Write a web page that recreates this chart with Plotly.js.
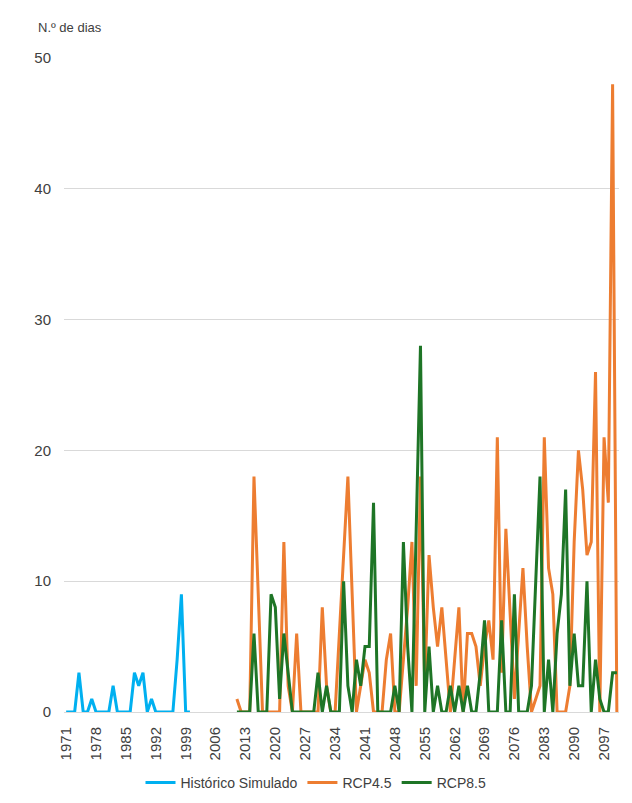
<!DOCTYPE html>
<html>
<head>
<meta charset="utf-8">
<script src="https://cdn.plot.ly/plotly-3.0.1.min.js"></script>
<style>
  html, body { margin: 0; padding: 0; background: #ffffff; }
  #chart { width: 632px; height: 803px; }
</style>
</head>
<body>
<div id="chart"></div>
<script>
// ---- Data ----
const histStartYear = 1971;
const histValues = [
  0, 0, 0, 3, 0, 0, 1, 0, 0, 0,
  0, 2, 0, 0, 0, 0, 3, 2, 3, 0,
  1, 0, 0, 0, 0, 0, 4, 9, 0, 0
];

const rcpStartYear = 2011;
const rcp45Values = [
  1, 0, 0, 0, 18, 9, 0, 0, 0, 0,
  0, 13, 2, 0, 6, 0, 0, 0, 0, 0,
  8, 2, 0, 0, 6, 12, 18, 9, 0, 2,
  4, 3, 0, 0, 0, 4, 6, 0, 0, 4,
  8, 13, 2, 18, 2, 12, 8, 5, 8, 4,
  0, 4, 8, 0, 6, 6, 5, 2, 5, 7,
  4, 21, 3, 14, 7, 1, 6, 11, 5, 0,
  1, 2, 21, 11, 9, 0, 0, 0, 2, 13,
  20, 17, 12, 13, 26, 0, 21, 16, 48, 0
];
const rcp85Values = [
  0, 0, 0, 0, 6, 0, 0, 0, 9, 8,
  1, 6, 3, 0, 0, 0, 0, 0, 0, 3,
  0, 2, 0, 0, 0, 10, 2, 0, 4, 2,
  5, 5, 16, 0, 0, 0, 0, 2, 0, 13,
  5, 0, 14, 28, 0, 5, 0, 2, 0, 0,
  2, 0, 2, 0, 2, 0, 0, 3, 7, 0,
  0, 0, 7, 0, 0, 9, 0, 0, 0, 2,
  10, 18, 0, 4, 0, 6, 9, 17, 2, 6,
  2, 2, 10, 0, 4, 1, 0, 0, 3, 3
];

const xTickLabels = ["1971", "1978", "1985", "1992", "1999", "2006", "2013", "2020",
  "2027", "2034", "2041", "2048", "2055", "2062", "2069", "2076", "2083", "2090", "2097"];
const yTickValues = [0, 10, 20, 30, 40, 50];

const seriesNames = ["Histórico Simulado", "RCP4.5", "RCP8.5"];
const yAxisTitle = "N.º de dias";

// ---- Build year categories ----
function yearsFrom(start, n) {
  const out = [];
  for (let i = 0; i < n; i++) out.push(start + i);
  return out;
}
const histYears = yearsFrom(histStartYear, histValues.length);
const rcpYears = yearsFrom(rcpStartYear, rcp45Values.length);

const FONT = "Liberation Sans, Arial, sans-serif";
const TXT = "#404040";

const traces = [
  { x: histYears, y: histValues, name: seriesNames[0], type: "scatter", mode: "lines",
    line: { color: "#00B0F0", width: 3, shape: "linear" } },
  { x: rcpYears, y: rcp45Values, name: seriesNames[1], type: "scatter", mode: "lines",
    line: { color: "#ED7D31", width: 3, shape: "linear" } },
  { x: rcpYears, y: rcp85Values, name: seriesNames[2], type: "scatter", mode: "lines",
    line: { color: "#1E7526", width: 3, shape: "linear" } }
];

const layout = {
  width: 632,
  height: 803,
  paper_bgcolor: "#ffffff",
  plot_bgcolor: "#ffffff",
  margin: { l: 64, r: 13, t: 58, b: 91, autoexpand: false },
  font: { family: FONT, color: TXT, size: 14 },
  showlegend: true,
  legend: {
    orientation: "h", xref: "container", yref: "container",
    x: 0.5, xanchor: "center", y: 1 - 783 / 803, yanchor: "middle",
    font: { family: FONT, size: 14, color: TXT }, itemwidth: 30, tracegroupgap: 0
  },
  xaxis: {
    type: "linear",
    automargin: false,
    range: [histStartYear - 0.5, rcpStartYear + rcp45Values.length - 0.5],
    tickmode: "array",
    tickvals: xTickLabels.map(Number),
    ticktext: xTickLabels,
    tickangle: -90,
    tickfont: { family: FONT, size: 15, color: TXT },
    showgrid: false,
    zeroline: false,
    showline: true,
    linecolor: "#d9d9d9",
    linewidth: 1,
    ticks: "",
    ticklabelstandoff: 8,
    fixedrange: true
  },
  yaxis: {
    automargin: false,
    range: [0, 50],
    tickmode: "array",
    tickvals: yTickValues,
    tickfont: { family: FONT, size: 15, color: TXT },
    showgrid: true,
    gridcolor: "#d9d9d9",
    gridwidth: 1,
    zeroline: false,
    showline: false,
    ticks: "",
    ticklabelstandoff: 12,
    fixedrange: true
  },
  annotations: [{
    text: yAxisTitle, xref: "paper", yref: "paper",
    x: -0.05, y: 1.046, xanchor: "left", yanchor: "middle",
    showarrow: false, font: { family: FONT, size: 13, color: TXT }
  }]
};

Plotly.newPlot("chart", traces, layout, { displayModeBar: false, staticPlot: true });
</script>
</body>
</html>
